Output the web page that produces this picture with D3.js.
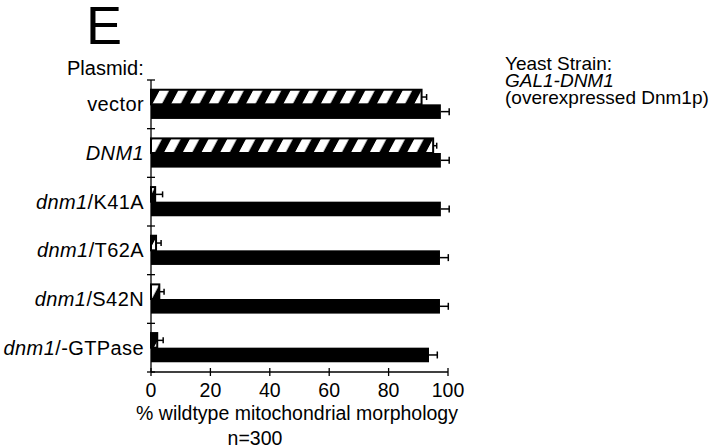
<!DOCTYPE html>
<html>
<head>
<meta charset="utf-8">
<script src="https://cdn.jsdelivr.net/npm/d3@7"></script>
<style>
  body { margin: 0; background: #fff; }
  text { font-family: "Liberation Sans", Arial, Helvetica, sans-serif; fill: #000; }
</style>
</head>
<body>
<div id="chart"></div>
<script>
// plasmid rows (top to bottom)
var plasmids = ["vector", "DNM1", "dnm1/K41A", "dnm1/T62A", "dnm1/S42N", "dnm1/-GTPase"];
// hatched bar (upper bar in each row)
var hatchedVals = [91.1, 95.0, 1.4, 1.7, 2.8, 2.1];
var hatchedErr  = [1.7, 1.2, 2.5, 1.7, 1.6, 2.0];
// solid black bar (lower bar in each row)
var solidVals = [97.6, 97.6, 97.6, 97.3, 97.3, 93.6];
var solidErr  = [2.8, 2.8, 2.8, 2.8, 2.8, 2.8];
var xTicks = [0, 20, 40, 60, 80, 100];

var width = 720, height = 448;
var plotLeft = 151, plotRight = 448, plotTop = 80, plotBottom = 372;

var svg = d3.select("#chart").append("svg")
    .attr("width", width).attr("height", height);

// hatch pattern: white "/" stripes on black
var defs = svg.append("defs");
var pat = defs.append("pattern")
    .attr("id", "hatch")
    .attr("patternUnits", "userSpaceOnUse")
    .attr("width", 18.7).attr("height", 40)
    .attr("patternTransform", "skewX(-28)");
pat.append("rect").attr("width", 18.7).attr("height", 40).attr("fill", "#000");
pat.append("rect").attr("x", 2).attr("width", 9.5).attr("height", 40).attr("fill", "#fff");

var x = d3.scaleLinear().domain([0, 100]).range([plotLeft, plotRight]);
var y = d3.scaleBand().domain(plasmids).range([plotTop, plotBottom])
    .paddingInner(0.4).paddingOuter(0.2);
var ySub = d3.scaleBand().domain(["hatched", "solid"]).range([0, y.bandwidth()]);

var rows = plasmids.map(function(p, i) {
    return {name: p, hv: hatchedVals[i], he: hatchedErr[i], sv: solidVals[i], se: solidErr[i]};
});

var g = svg.append("g");

// error bars (drawn first so bars sit on top)
function errBar(sel, key, valKey, errKey, capH) {
    sel.append("line")
        .attr("x1", d => x(d[valKey])).attr("x2", d => x(d[valKey] + d[errKey]))
        .attr("y1", d => y(d.name) + ySub(key) + ySub.bandwidth() / 2)
        .attr("y2", d => y(d.name) + ySub(key) + ySub.bandwidth() / 2)
        .attr("stroke", "#000").attr("stroke-width", 1.5);
    sel.append("line")
        .attr("x1", d => x(d[valKey] + d[errKey])).attr("x2", d => x(d[valKey] + d[errKey]))
        .attr("y1", d => y(d.name) + ySub(key) + ySub.bandwidth() / 2 - capH / 2)
        .attr("y2", d => y(d.name) + ySub(key) + ySub.bandwidth() / 2 + capH / 2)
        .attr("stroke", "#000").attr("stroke-width", 1.5);
}

var rowG = g.selectAll(".row").data(rows).enter().append("g").attr("class", "row");
errBar(rowG, "hatched", "hv", "he", 6);
errBar(rowG, "solid", "sv", "se", 7);

rowG.append("rect")
    .attr("x", x(0))
    .attr("y", d => y(d.name) + ySub("hatched"))
    .attr("width", d => x(d.hv) - x(0))
    .attr("height", ySub.bandwidth())
    .attr("fill", "url(#hatch)")
    .attr("stroke", "#000").attr("stroke-width", 2);

rowG.append("rect")
    .attr("x", x(0))
    .attr("y", d => y(d.name) + ySub("solid"))
    .attr("width", d => x(d.sv) - x(0))
    .attr("height", ySub.bandwidth())
    .attr("fill", "#000");

// x axis with ticks crossing the line
var xAxis = g.append("g").attr("transform", "translate(0," + plotBottom + ")");
xAxis.append("line").attr("x1", x(0)).attr("x2", x(100))
    .attr("stroke", "#000").attr("stroke-width", 1.3);
xAxis.selectAll(".xt").data(xTicks).enter().append("line")
    .attr("x1", d => x(d)).attr("x2", d => x(d))
    .attr("y1", -4).attr("y2", 4)
    .attr("stroke", "#000").attr("stroke-width", 1.3);
xAxis.selectAll(".xl").data(xTicks).enter().append("text")
    .attr("x", d => x(d)).attr("y", 25)
    .attr("text-anchor", "middle")
    .style("font-size", "19.5px")
    .text(d => d);

// y axis: line plus ticks between rows
var yEdges = plasmids.map(p => y(p) - y.step() * y.paddingOuter()).concat([plotBottom]);
var yAxis = g.append("g");
yAxis.append("line").attr("x1", plotLeft).attr("x2", plotLeft)
    .attr("y1", plotTop).attr("y2", plotBottom)
    .attr("stroke", "#000").attr("stroke-width", 1.3);
yAxis.selectAll(".yt").data(yEdges).enter().append("line")
    .attr("x1", plotLeft - 4).attr("x2", plotLeft + 4)
    .attr("y1", d => d).attr("y2", d => d)
    .attr("stroke", "#000").attr("stroke-width", 1.3);

// row labels, italic gene names
var labels = yAxis.selectAll(".yl").data(plasmids).enter().append("text")
    .attr("x", plotLeft - 7)
    .attr("y", d => y(d) + y.bandwidth() / 2 + 7)
    .attr("text-anchor", "end")
    .style("font-size", "20px")
    .style("letter-spacing", "0.4px");
labels.each(function(d) {
    var t = d3.select(this);
    if (d === "vector") { t.text(d); return; }
    if (d === "DNM1") { t.append("tspan").style("font-style", "italic").text(d); return; }
    var parts = d.split("/");
    t.append("tspan").style("font-style", "italic").text(parts[0]);
    t.append("tspan").text("/" + parts[1]);
});

// titles and notes
svg.append("text").attr("x", 86).attr("y", 44)
    .style("font-size", "54px").text("E");
svg.append("text").attr("x", 67).attr("y", 75)
    .style("font-size", "20px").text("Plasmid:");
svg.append("text").attr("x", 297).attr("y", 420)
    .attr("text-anchor", "middle")
    .style("font-size", "19.5px").text("% wildtype mitochondrial morphology");
svg.append("text").attr("x", 255).attr("y", 445)
    .attr("text-anchor", "middle")
    .style("font-size", "19.5px").text("n=300");

var note = svg.append("text").attr("x", 505).style("font-size", "19px");
note.append("tspan").attr("x", 505).attr("y", 70).text("Yeast Strain:");
note.append("tspan").attr("x", 505).attr("y", 87).style("font-style", "italic").text("GAL1-DNM1");
note.append("tspan").attr("x", 505).attr("y", 104).text("(overexpressed Dnm1p)");
</script>
</body>
</html>
